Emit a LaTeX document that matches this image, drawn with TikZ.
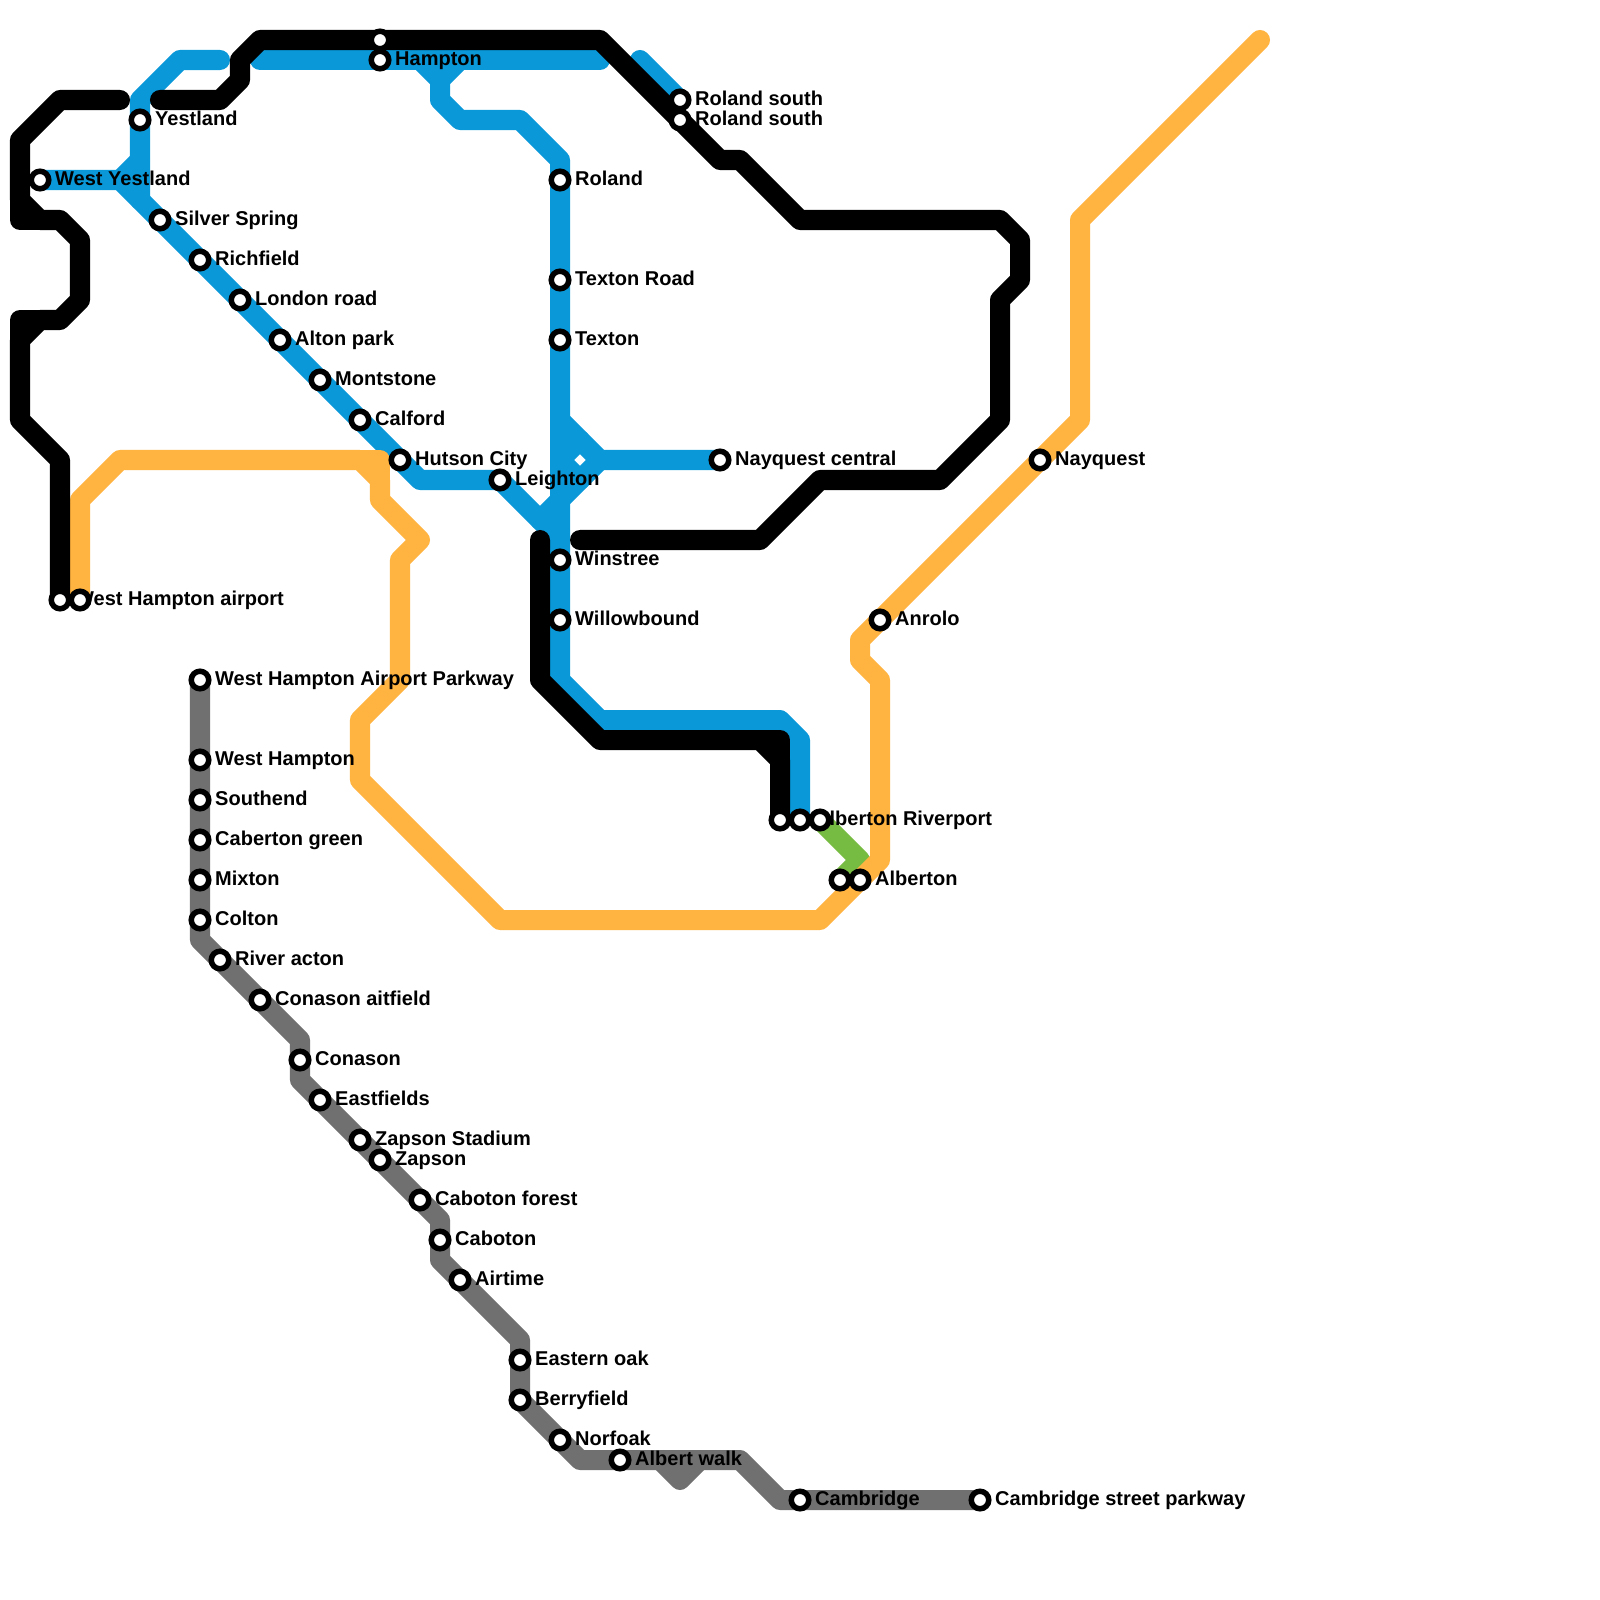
\documentclass[tikz,border=0pt]{standalone}
\usepackage{fontspec}
\setmainfont{Liberation Sans}
\usetikzlibrary{backgrounds}
\definecolor{lineblue}{HTML}{0A98D9}
\definecolor{lineorange}{HTML}{FFB340}
\definecolor{linegreen}{HTML}{76BC43}
\definecolor{linegrey}{HTML}{707070}

\begin{document}
\begin{tikzpicture}[x=0.01cm,y=-0.01cm,
  metroline/.style={line width=0.2cm,line cap=round,line join=round},
  station/.style={circle,draw=black,fill=white,line width=0.055cm,minimum size=0.175cm,inner sep=0pt},
  stationname/.style={font=\fontsize{5.69pt}{7pt}\selectfont\bfseries,inner sep=0pt,text height=4.5pt,text depth=1.5pt,label distance=0.03cm}]
\useasboundingbox (0,0) rectangle (1600,1600);
% black line stops, with no names
\node[station] (topBlack) at (380,40) {};
% blue line stops
\node[station,label={[stationname]right:Hampton}] (hampton) at (380,60) {};
\node[station,label={[stationname]right:Yestland}] (yestland) at (140,120) {};
\node[station,label={[stationname]right:West Yestland}] (westYestland) at (40,180) {};
\node[station,label={[stationname]right:Silver Spring}] (silverSpring) at (160,220) {};
\node[station,label={[stationname]right:Richfield}] (richfield) at (200,260) {};
\node[station,label={[stationname]right:London road}] (londonRoad) at (240,300) {};
\node[station,label={[stationname]right:Alton park}] (altonPark) at (280,340) {};
\node[station,label={[stationname]right:Montstone}] (montstone) at (320,380) {};
\node[station,label={[stationname]right:Calford}] (calford) at (360,420) {};
\node[station,label={[stationname]right:Hutson City}] (hutsonCity) at (400,460) {};
\node[station,label={[stationname]right:Leighton}] (leighton) at (500,480) {};
\node[station,label={[stationname]right:Roland}] (roland) at (560,180) {};
\node[station,label={[stationname]right:Texton Road}] (textonRoad) at (560,280) {};
\node[station,label={[stationname]right:Texton}] (texton) at (560,340) {};
\node[station,label={[stationname]right:Nayquest central}] (nayquestCentral) at (720,460) {};
\node[station,label={[stationname]right:Winstree}] (winstree) at (560,560) {};
\node[station,label={[stationname]right:Willowbound}] (willowbound) at (560,620) {};
\node[station,label={[stationname]right:Roland south}] (rolandSouth) at (680,100) {};
\node[station,label={[stationname]right:Roland south}] (rolandSouthB) at (680,120) {};
% the second stop of each pair sits on the first one's name
\node[station,label={[stationname]right:West Hampton airport}] (westHamptonAirport) at (60,600) {};
\node[station] (airportOrange) at (80,600) {};
\node[station] (riverBlack) at (780,820) {};
\node[station,label={[stationname]right:Alberton Riverport}] (albertonRiverport) at (800,820) {};
\node[station] (riverGreen) at (820,820) {};
\node[station] (albertonGreen) at (840,880) {};
% orange line stops
\node[station,label={[stationname]right:Alberton}] (alberton) at (860,880) {};
\node[station,label={[stationname]right:Anrolo}] (anrolo) at (880,620) {};
\node[station,label={[stationname]right:Nayquest}] (nayquest) at (1040,460) {};
% grey line stops
\node[station,label={[stationname]right:West Hampton Airport Parkway}] (airportParkway) at (200,680) {};
\node[station,label={[stationname]right:West Hampton}] (westHampton) at (200,760) {};
\node[station,label={[stationname]right:Southend}] (southend) at (200,800) {};
\node[station,label={[stationname]right:Caberton green}] (cabertonGreen) at (200,840) {};
\node[station,label={[stationname]right:Mixton}] (mixton) at (200,880) {};
\node[station,label={[stationname]right:Colton}] (colton) at (200,920) {};
\node[station,label={[stationname]right:River acton}] (riverActon) at (220,960) {};
\node[station,label={[stationname]right:Conason aitfield}] (conasonAitfield) at (260,1000) {};
\node[station,label={[stationname]right:Conason}] (conason) at (300,1060) {};
\node[station,label={[stationname]right:Eastfields}] (eastfields) at (320,1100) {};
\node[station,label={[stationname]right:Zapson Stadium}] (zapsonStadium) at (360,1140) {};
\node[station,label={[stationname]right:Zapson}] (zapson) at (380,1160) {};
\node[station,label={[stationname]right:Caboton forest}] (cabotonForest) at (420,1200) {};
\node[station,label={[stationname]right:Caboton}] (caboton) at (440,1240) {};
\node[station,label={[stationname]right:Airtime}] (airtime) at (460,1280) {};
\node[station,label={[stationname]right:Eastern oak}] (easternOak) at (520,1360) {};
\node[station,label={[stationname]right:Berryfield}] (berryfield) at (520,1400) {};
\node[station,label={[stationname]right:Norfoak}] (norfoak) at (560,1440) {};
\node[station,label={[stationname]right:Albert walk}] (albertWalk) at (620,1460) {};
\node[station,label={[stationname]right:Cambridge}] (cambridge) at (800,1500) {};
\node[station,label={[stationname]right:Cambridge street parkway}] (cambridgeParkway) at (980,1500) {};
\begin{scope}[on background layer]
% green line
\draw[metroline,linegreen] (riverGreen.center) -- (860,860) -- (albertonGreen.center);
% blue line
\draw[metroline,lineblue] (westYestland.center) -- (120,180) -- (hutsonCity.center) -- (420,480) -- (leighton.center) -- (560,540) -- (560,680) -- (600,720) -- (780,720) -- (800,740) -- (albertonRiverport.center);
\draw[metroline,lineblue] (220,60) -- (180,60) -- (140,100) -- (140,200);
\draw[metroline,lineblue] (140,160) -- (120,180);
\draw[metroline,lineblue] (260,60) -- (600,60);
\draw[metroline,lineblue] (420,60) -- (440,80) -- (440,100) -- (460,120) -- (520,120) -- (560,160) -- (560,540);
\draw[metroline,lineblue] (460,60) -- (440,80);
\draw[metroline,lineblue] (640,60) -- (rolandSouth.center);
\draw[metroline,lineblue] (560,420) -- (600,460) -- (nayquestCentral.center);
\draw[metroline,lineblue] (600,460) -- (540,520);
\draw[metroline,lineblue] (580,440) -- (560,460) -- (580,480);
% orange line
\draw[metroline,lineorange] (airportOrange.center) -- (80,500) -- (120,460) -- (360,460) -- (380,480) -- (380,500) -- (420,540) -- (400,560) -- (400,680) -- (360,720) -- (360,780) -- (500,920) -- (820,920) -- (880,860) -- (880,680) -- (860,660) -- (860,640) -- (1080,420) -- (1080,220) -- (1260,40);
\draw[metroline,lineorange] (360,460) -- (380,460) -- (380,480);
% grey line
\draw[metroline,linegrey] (airportParkway.center) -- (200,940) -- (300,1040) -- (300,1080) -- (440,1220) -- (440,1260) -- (520,1340) -- (520,1400) -- (580,1460) -- (740,1460) -- (780,1500) -- (cambridgeParkway.center);
\draw[metroline,linegrey] (660,1460) -- (680,1480) -- (700,1460);
% black line
\draw[metroline,black] (westHamptonAirport.center) -- (60,460) -- (20,420) -- (20,340) -- (40,320) -- (60,320) -- (80,300) -- (80,240) -- (60,220) -- (40,220) -- (20,200) -- (20,140) -- (60,100) -- (120,100);
\draw[metroline,black] (20,340) -- (20,320) -- (40,320);
\draw[metroline,black] (20,200) -- (20,220) -- (40,220);
\draw[metroline,black] (160,100) -- (220,100) -- (240,80) -- (240,60) -- (260,40) -- (600,40) -- (720,160) -- (740,160) -- (800,220) -- (1000,220) -- (1020,240) -- (1020,280) -- (1000,300) -- (1000,420) -- (940,480) -- (820,480) -- (760,540) -- (580,540);
\draw[metroline,black] (540,540) -- (540,680) -- (600,740) -- (760,740) -- (780,760) -- (riverBlack.center);
\draw[metroline,black] (760,740) -- (780,740) -- (780,760);
\end{scope}
\end{tikzpicture}
\end{document}
